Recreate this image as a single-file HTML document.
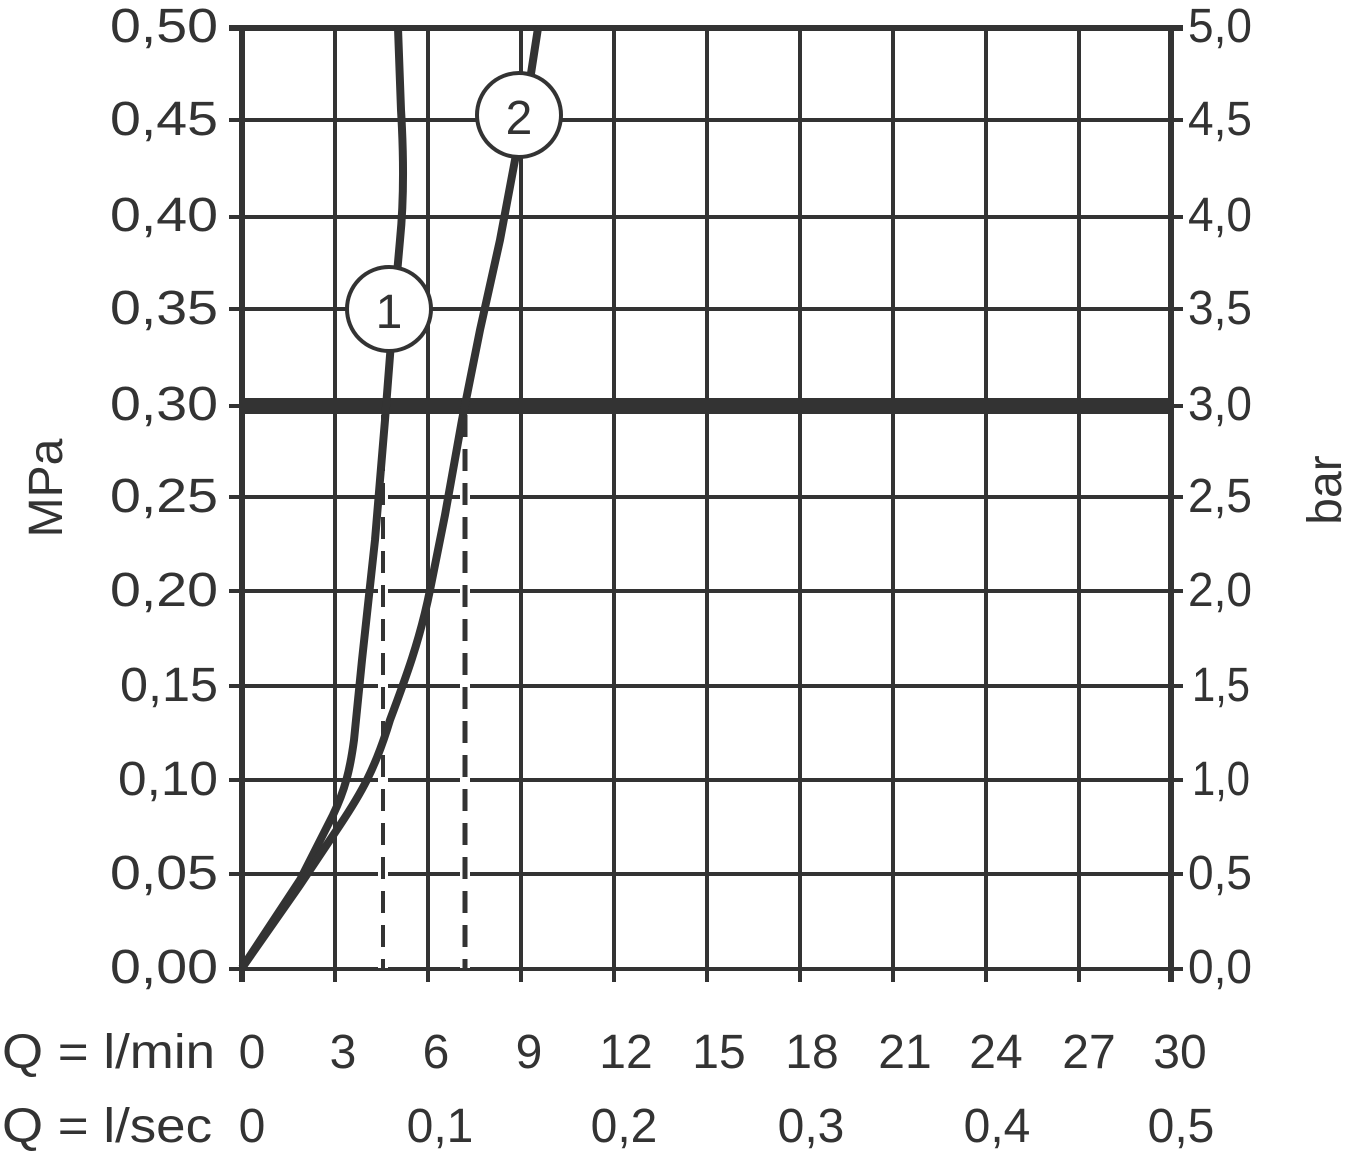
<!DOCTYPE html>
<html><head><meta charset="utf-8"><style>
html,body{margin:0;padding:0;background:#fff;}
svg{display:block;}
text{font-family:"Liberation Sans","DejaVu Sans",sans-serif;fill:#333;font-size:48px;}
</style></head><body>
<svg width="1349" height="1160" viewBox="0 0 1349 1160" xmlns="http://www.w3.org/2000/svg">
<g stroke="#333" stroke-width="4" fill="none">
  <line x1="229" y1="28" x2="1183" y2="28"/>
  <line x1="229" y1="120" x2="1183" y2="120"/>
  <line x1="229" y1="217" x2="1183" y2="217"/>
  <line x1="229" y1="309" x2="1183" y2="309"/>
  <line x1="229" y1="497" x2="1183" y2="497"/>
  <line x1="229" y1="591" x2="1183" y2="591"/>
  <line x1="229" y1="686" x2="1183" y2="686"/>
  <line x1="229" y1="780" x2="1183" y2="780"/>
  <line x1="229" y1="874" x2="1183" y2="874"/>
  <line x1="229" y1="969" x2="1183" y2="969"/>
  <line x1="335" y1="28" x2="335" y2="982"/>
  <line x1="428" y1="28" x2="428" y2="982"/>
  <line x1="521" y1="28" x2="521" y2="982"/>
  <line x1="614" y1="28" x2="614" y2="982"/>
  <line x1="707" y1="28" x2="707" y2="982"/>
  <line x1="800" y1="28" x2="800" y2="982"/>
  <line x1="893" y1="28" x2="893" y2="982"/>
  <line x1="986" y1="28" x2="986" y2="982"/>
  <line x1="1079" y1="28" x2="1079" y2="982"/>
  <line x1="242" y1="26" x2="242" y2="982" stroke-width="6"/>
  <line x1="1171" y1="26" x2="1171" y2="982" stroke-width="6"/>
  <line x1="229" y1="28" x2="1183" y2="28" stroke-width="6"/>
  <line x1="229" y1="406" x2="1183" y2="406" stroke-width="4"/>
  <line x1="242" y1="406" x2="1171" y2="406" stroke-width="16"/>
  <line x1="383" y1="420" x2="383" y2="968" stroke="#fff" stroke-width="10"/>
  <line x1="465" y1="420" x2="465" y2="968" stroke="#fff" stroke-width="10"/>
  <line x1="383" y1="415" x2="383" y2="968" stroke-dasharray="22 12" stroke-width="4"/>
  <line x1="465" y1="415" x2="465" y2="968" stroke-dasharray="22 12" stroke-width="5"/>
  <path d="M242,968 L300,880 L333,815 C345,790 350,770 354,740 L362,660 L375,540 L385,420 L392,330 L400,240 C404,200 404,160 401,110 L398,28" stroke-width="8" stroke-linejoin="round"/>
  <path d="M242,968 L300,885 L340,825 C360,795 375,770 390,720 C405,680 420,640 430,590 L445,515 L462,420 L480,330 L500,240 L515,160 L530,80 L538,28" stroke-width="8" stroke-linejoin="round"/>
</g>
<circle cx="389" cy="309" r="42" fill="#fff" stroke="#333" stroke-width="4"/>
<text x="389" y="328" text-anchor="middle" font-size="50">1</text>
<circle cx="519" cy="115" r="42" fill="#fff" stroke="#333" stroke-width="4"/>
<text x="519" y="134" text-anchor="middle" font-size="50">2</text>
<g>
<text x="110" y="42" textLength="108" lengthAdjust="spacingAndGlyphs">0,50</text>
<text x="110" y="135" textLength="108" lengthAdjust="spacingAndGlyphs">0,45</text>
<text x="110" y="231" textLength="108" lengthAdjust="spacingAndGlyphs">0,40</text>
<text x="110" y="324" textLength="108" lengthAdjust="spacingAndGlyphs">0,35</text>
<text x="110" y="420" textLength="108" lengthAdjust="spacingAndGlyphs">0,30</text>
<text x="110" y="512" textLength="108" lengthAdjust="spacingAndGlyphs">0,25</text>
<text x="110" y="606" textLength="108" lengthAdjust="spacingAndGlyphs">0,20</text>
<text x="120" y="701" textLength="98" lengthAdjust="spacingAndGlyphs">0,15</text>
<text x="118" y="795" textLength="100" lengthAdjust="spacingAndGlyphs">0,10</text>
<text x="110" y="889" textLength="108" lengthAdjust="spacingAndGlyphs">0,05</text>
<text x="110" y="983" textLength="108" lengthAdjust="spacingAndGlyphs">0,00</text>
</g>
<g>
<text x="1188" y="42" textLength="64" lengthAdjust="spacingAndGlyphs">5,0</text>
<text x="1188" y="135" textLength="64" lengthAdjust="spacingAndGlyphs">4,5</text>
<text x="1188" y="231" textLength="64" lengthAdjust="spacingAndGlyphs">4,0</text>
<text x="1188" y="324" textLength="64" lengthAdjust="spacingAndGlyphs">3,5</text>
<text x="1188" y="420" textLength="64" lengthAdjust="spacingAndGlyphs">3,0</text>
<text x="1188" y="512" textLength="64" lengthAdjust="spacingAndGlyphs">2,5</text>
<text x="1188" y="606" textLength="64" lengthAdjust="spacingAndGlyphs">2,0</text>
<text x="1192" y="701" textLength="58" lengthAdjust="spacingAndGlyphs">1,5</text>
<text x="1192" y="795" textLength="58" lengthAdjust="spacingAndGlyphs">1,0</text>
<text x="1188" y="889" textLength="64" lengthAdjust="spacingAndGlyphs">0,5</text>
<text x="1188" y="983" textLength="64" lengthAdjust="spacingAndGlyphs">0,0</text>
</g>
<text transform="translate(62,488) rotate(-90)" text-anchor="middle" font-size="46">MPa</text>
<text transform="translate(1341,490) rotate(-90)" text-anchor="middle" font-size="46">bar</text>
<text x="2" y="1068" textLength="213" lengthAdjust="spacingAndGlyphs">Q = l/min</text>
<g text-anchor="middle">
<text x="252" y="1068">0</text>
<text x="343" y="1068">3</text>
<text x="436" y="1068">6</text>
<text x="529" y="1068">9</text>
<text x="626" y="1068">12</text>
<text x="719" y="1068">15</text>
<text x="812" y="1068">18</text>
<text x="905" y="1068">21</text>
<text x="996" y="1068">24</text>
<text x="1089" y="1068">27</text>
<text x="1180" y="1068">30</text>
</g>
<text x="2" y="1142" textLength="210" lengthAdjust="spacingAndGlyphs">Q = l/sec</text>
<g text-anchor="middle">
<text x="252" y="1142">0</text>
<text x="440" y="1142">0,1</text>
<text x="624" y="1142">0,2</text>
<text x="811" y="1142">0,3</text>
<text x="997" y="1142">0,4</text>
<text x="1181" y="1142">0,5</text>
</g>
</svg>
</body></html>
